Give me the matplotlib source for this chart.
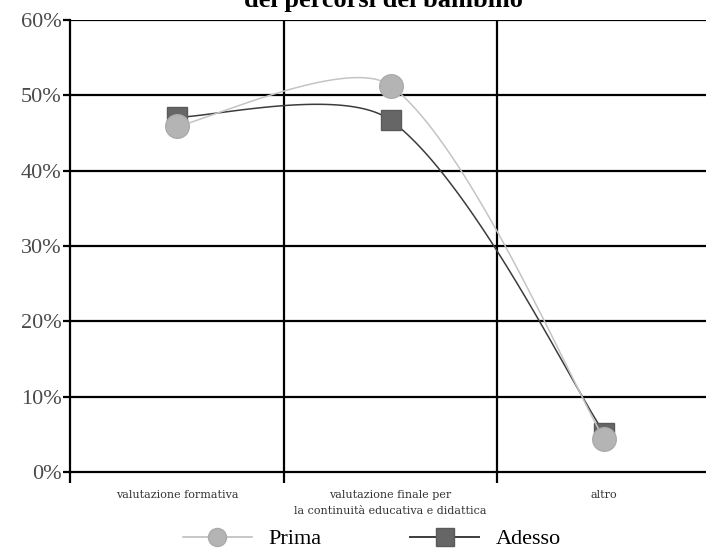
import numpy as np
import matplotlib
matplotlib.use('Agg')
import matplotlib.pyplot as plt
from matplotlib.lines import Line2D

plt.rcParams['font.family'] = ['Liberation Serif', 'DejaVu Serif']

# dati
categorie = ["valutazione formativa",
             "valutazione finale per\nla continuità educativa e didattica",
             "altro"]
prima = [45.9, 51.3, 4.4]
adesso = [47.1, 46.7, 5.2]
y_ticks = [0, 10, 20, 30, 40, 50, 60]
titolo = "dei percorsi del bambino"


def curva_smussata(ax, xs, ys, f=0.15, n=60):
    """Bezier stile foglio di calcolo, calcolata in pixel."""
    pts = ax.transData.transform(np.column_stack([xs, ys]))
    out = []
    m = len(pts)
    for i in range(m - 1):
        p0 = pts[max(i - 1, 0)]
        p1 = pts[i]
        p2 = pts[i + 1]
        p3 = pts[min(i + 2, m - 1)]
        d01 = np.hypot(*(p1 - p0))
        d12 = np.hypot(*(p2 - p1))
        d23 = np.hypot(*(p3 - p2))
        w1 = 2 * d12 / (d01 + d12) if d01 > 0 else 1.0
        w2 = 2 * d12 / (d12 + d23) if d23 > 0 else 1.0
        c1 = p1 + f * w1 * (p2 - p0)
        c2 = p2 - f * w2 * (p3 - p1)
        t = np.linspace(0, 1, n)[:, None]
        seg = ((1 - t) ** 3) * p1 + 3 * ((1 - t) ** 2) * t * c1 \
            + 3 * (1 - t) * t ** 2 * c2 + t ** 3 * p2
        out.append(seg if i == 0 else seg[1:])
    xy = ax.transData.inverted().transform(np.vstack(out))
    return xy[:, 0], xy[:, 1]


fig = plt.figure(figsize=(7.06, 5.49), dpi=100)
ax = fig.add_axes([70 / 706, 1 - 472 / 549, 641 / 706, 452 / 549])
ax.set_xlim(0, 3)
ax.set_ylim(0, 60)

x = np.arange(len(categorie)) + 0.5

# griglia
for v in y_ticks[1:]:
    ax.axhline(v, color='black', lw=1.6, zorder=1)
for v in [1, 2]:
    ax.axvline(v, color='black', lw=1.6, zorder=1)

for s in ['top', 'right']:
    ax.spines[s].set_visible(False)
for s in ['left', 'bottom']:
    ax.spines[s].set_linewidth(1.6)
    ax.spines[s].set_color('black')

ax.set_yticks(y_ticks)
ax.set_yticklabels([f"{v}%" for v in y_ticks], fontsize=16, color='#4a4a4a')
ax.tick_params(axis='y', length=5, width=1.6, pad=1)

ax.set_xticks([0, 1, 2, 3])
ax.set_xticklabels([])
ax.set_xticks(x, minor=True)
ax.set_xticklabels(categorie, minor=True, fontsize=8, color='#333333',
                   family='DejaVu Serif', linespacing=1.75)
ax.tick_params(axis='x', which='major', length=8, width=1.6, direction='out')
ax.tick_params(axis='x', which='minor', length=0, pad=13)

# serie
xa, ya = curva_smussata(ax, x, adesso)
ax.plot(xa, ya, color='#3c3c3c', lw=1.1, zorder=3)
ax.plot(x, adesso, ls='none', marker='s', ms=15, color='#666666',
        mec='#5a5a5a', zorder=4)

xp, yp = curva_smussata(ax, x, prima, f=0.14)
ax.plot(xp, yp, color='#c4c4c4', lw=1.1, zorder=5)
ax.plot(x, prima, ls='none', marker='o', ms=17, color='#b4b4b4',
        mec='#ababab', zorder=6)

fig.text(383 / 706, 1 - 7 / 549, titolo, ha='center', va='baseline',
         fontsize=19, fontweight='bold')

handles = [
    Line2D([], [], color='#b8b8b8', lw=1.1, marker='o', ms=13,
           mfc='#b4b4b4', mec='#ababab'),
    Line2D([], [], color='#3c3c3c', lw=1.4, marker='s', ms=13,
           mfc='#666666', mec='#5a5a5a'),
]
fig.legend(handles, ["Prima", "Adesso"], loc='center',
           bbox_to_anchor=(372 / 706, 1 - 539 / 549), ncol=2,
           frameon=False, handlelength=3.1, handletextpad=0.75,
           columnspacing=4.0, prop={'size': 16})

fig.savefig("out.png", dpi=100)
